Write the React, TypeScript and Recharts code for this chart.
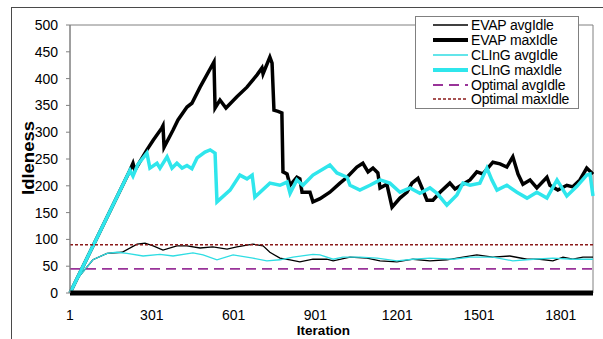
import { Label, Line, LineChart, ReferenceArea, XAxis, YAxis } from "recharts";

// [iteration, idleness]
const evapAvg: Array<[number, number]> = [
  [1, 0], [12, 15], [38, 33], [85, 62], [137, 74], [192, 76], [247, 91], [276, 93], [306, 88],
  [342, 80], [393, 88], [430, 88], [478, 84], [525, 86], [577, 82], [613, 86], [672, 91],
  [709, 88], [734, 76], [771, 65], [808, 62], [844, 58], [892, 63], [943, 63], [966, 60],
  [1028, 67], [1090, 65], [1138, 60], [1200, 58], [1259, 63], [1321, 60], [1383, 62],
  [1442, 67], [1493, 71], [1552, 67], [1614, 69], [1677, 63], [1724, 63], [1772, 60],
  [1809, 67], [1845, 63], [1882, 67], [1919, 67],
];

const evapMax: Array<[number, number]> = [
  [1, 0], [221, 229], [232, 242], [239, 229], [283, 267], [306, 285], [338, 308], [342, 312],
  [346, 272], [379, 304], [397, 323], [430, 347], [448, 354], [478, 384], [529, 431],
  [533, 345], [551, 360], [573, 345], [613, 366], [650, 384], [687, 407], [705, 420],
  [709, 409], [734, 440], [742, 429], [749, 341], [764, 339], [778, 336], [782, 226],
  [797, 222], [808, 201], [833, 216], [844, 213], [852, 188], [881, 188], [892, 170],
  [918, 176], [954, 188], [991, 205], [1017, 216], [1053, 235], [1075, 242], [1094, 226],
  [1112, 233], [1130, 224], [1138, 196], [1163, 203], [1182, 160], [1211, 177], [1237, 188],
  [1255, 205], [1277, 214], [1292, 196], [1310, 173], [1332, 173], [1358, 188], [1394, 205],
  [1413, 194], [1442, 203], [1468, 211], [1493, 226], [1515, 222], [1552, 244], [1578, 241],
  [1603, 235], [1625, 254], [1644, 222], [1662, 203], [1688, 211], [1713, 196], [1750, 216],
  [1761, 201], [1790, 192], [1823, 201], [1845, 198], [1871, 211], [1896, 233], [1915, 224],
  [1919, 226],
];

const clingAvg: Array<[number, number]> = [
  [1, 0], [12, 15], [38, 33], [85, 62], [137, 74], [173, 76], [210, 74], [269, 69], [331, 72],
  [379, 69], [452, 75], [489, 71], [540, 62], [599, 71], [672, 65], [723, 60], [771, 62],
  [819, 67], [892, 72], [918, 71], [966, 63], [1002, 67], [1064, 67], [1127, 65], [1200, 60],
  [1259, 63], [1321, 65], [1406, 63], [1468, 67], [1552, 67], [1625, 60], [1699, 63],
  [1772, 65], [1845, 63], [1919, 63],
];

const clingMax: Array<[number, number]> = [
  [1, 0], [221, 229], [232, 218], [250, 240], [283, 261], [294, 233], [320, 242], [331, 233],
  [357, 254], [375, 233], [393, 242], [412, 233], [430, 238], [448, 232], [467, 252],
  [496, 263], [515, 267], [533, 261], [540, 170], [588, 192], [624, 220], [650, 213],
  [669, 220], [679, 179], [734, 205], [771, 201], [797, 207], [808, 186], [833, 211],
  [855, 201], [892, 220], [954, 239], [980, 224], [1017, 216], [1028, 201], [1064, 192],
  [1101, 201], [1138, 211], [1174, 205], [1211, 188], [1248, 196], [1284, 186], [1321, 196],
  [1347, 186], [1383, 164], [1420, 183], [1442, 205], [1468, 201], [1504, 205], [1530, 233],
  [1548, 211], [1567, 192], [1603, 201], [1640, 188], [1677, 177], [1713, 188], [1750, 177],
  [1787, 211], [1823, 181], [1860, 199], [1896, 220], [1908, 222], [1919, 181],
];

const optimalAvg: Array<[number, number]> = [[1, 45], [1919, 45]];
const optimalMax: Array<[number, number]> = [[1, 90], [1919, 90]];

const xTicks = [1, 301, 601, 901, 1201, 1501, 1801];
const yTicks = [0, 50, 100, 150, 200, 250, 300, 350, 400, 450, 500];

const series = [
  { name: "EVAP avgIdle", points: evapAvg, color: "#000000", width: 1.3, dash: undefined },
  { name: "EVAP maxIdle", points: evapMax, color: "#000000", width: 3.5, dash: undefined },
  { name: "CLInG avgIdle", points: clingAvg, color: "#2fdde3", width: 1.3, dash: undefined },
  { name: "CLInG maxIdle", points: clingMax, color: "#2fe6ec", width: 3.5, dash: undefined },
  { name: "Optimal avgIdle", points: optimalAvg, color: "#993399", width: 1.8, dash: "10 6" },
  { name: "Optimal maxIdle", points: optimalMax, color: "#8b1a1a", width: 1.4, dash: "3 2" },
];

const font = "'Liberation Sans', Arial, sans-serif";

function LegendBox() {
  return (
    <div
      style={{
        position: "absolute",
        left: 415,
        top: 16,
        border: "1px solid #808080",
        background: "#fff",
        width: 162,
        padding: "1px 0",
        fontFamily: font,
        fontSize: 14,
        letterSpacing: -0.2,
        color: "#000",
      }}
    >
      {series.map((s) => (
        <div key={s.name} style={{ display: "flex", alignItems: "center", height: 14.8 }}>
          <svg width={55} height={10} style={{ flex: "none" }}>
            <line
              x1={17}
              x2={52}
              y1={5}
              y2={5}
              stroke={s.color}
              strokeWidth={s.width + (s.width > 3 ? 0.5 : 0)}
              strokeDasharray={s.dash}
            />
          </svg>
          <span style={{ whiteSpace: "nowrap" }}>{s.name}</span>
        </div>
      ))}
    </div>
  );
}

export default function App() {
  return (
    <div style={{ position: "absolute", left: 0, top: 0, width: 603, height: 339, background: "#fff", overflow: "hidden" }}>
      <div
        style={{
          position: "absolute",
          left: 11,
          top: 7,
          width: 700,
          height: 400,
          borderLeft: "1px solid #4a4a4a",
          borderTop: "1px solid #4a4a4a",
        }}
      />
      <div style={{ position: "absolute", left: 0, top: 0 }}>
        <LineChart width={603} height={339} margin={{ top: 25, right: 10, left: 0, bottom: 0 }}>
          <XAxis
            type="number"
            dataKey="iteration"
            domain={[1, 1919]}
            ticks={xTicks}
            interval={0}
            height={46}
            tickLine={false}
            tickSize={0}
            tickMargin={17}
            axisLine={{ stroke: "#000", strokeWidth: 5 }}
            tick={{ fill: "#000", fontSize: 14, fontFamily: font }}
          >
            <Label
              content={({ viewBox }: any) => (
                <text
                  x={viewBox.x + viewBox.width / 2 - 8}
                  y={viewBox.y + 42}
                  textAnchor="middle"
                  fontFamily={font}
                  fontWeight="bold"
                  fontSize={13.5}
                  fill="#000"
                >
                  Iteration
                </text>
              )}
            />
          </XAxis>
          <YAxis
            type="number"
            domain={[0, 500]}
            ticks={yTicks}
            interval={0}
            width={70}
            tickSize={4}
            tickMargin={8}
            axisLine={{ stroke: "#808080" }}
            tickLine={{ stroke: "#808080" }}
            tick={{ fill: "#000", fontSize: 14, fontFamily: font }}
          >
            <Label
              content={({ viewBox }: any) => {
                const cx = viewBox.x + 28;
                const cy = viewBox.y + viewBox.height / 2 - 1;
                return (
                  <text
                    x={cx}
                    y={cy}
                    transform={`rotate(-90 ${cx} ${cy})`}
                    textAnchor="middle"
                    dominantBaseline="central"
                    fontFamily={font}
                    fontWeight="bold"
                    fontSize={16}
                    textLength={74}
                    lengthAdjust="spacingAndGlyphs"
                    fill="#000"
                  >
                    Idleness
                  </text>
                );
              }}
            />
          </YAxis>
          <ReferenceArea x1={1} x2={1919} y1={0} y2={500} fill="none" stroke="#808080" ifOverflow="visible" />
          {series.map((s) => (
            <Line
              key={s.name}
              name={s.name}
              data={s.points.map(([iteration, idle]) => ({ iteration, idle }))}
              dataKey="idle"
              type="linear"
              stroke={s.color}
              strokeWidth={s.width}
              strokeDasharray={s.dash}
              strokeLinejoin="miter"
              dot={false}
              activeDot={false}
              isAnimationActive={false}
            />
          ))}
        </LineChart>
      </div>
      <LegendBox />
    </div>
  );
}
